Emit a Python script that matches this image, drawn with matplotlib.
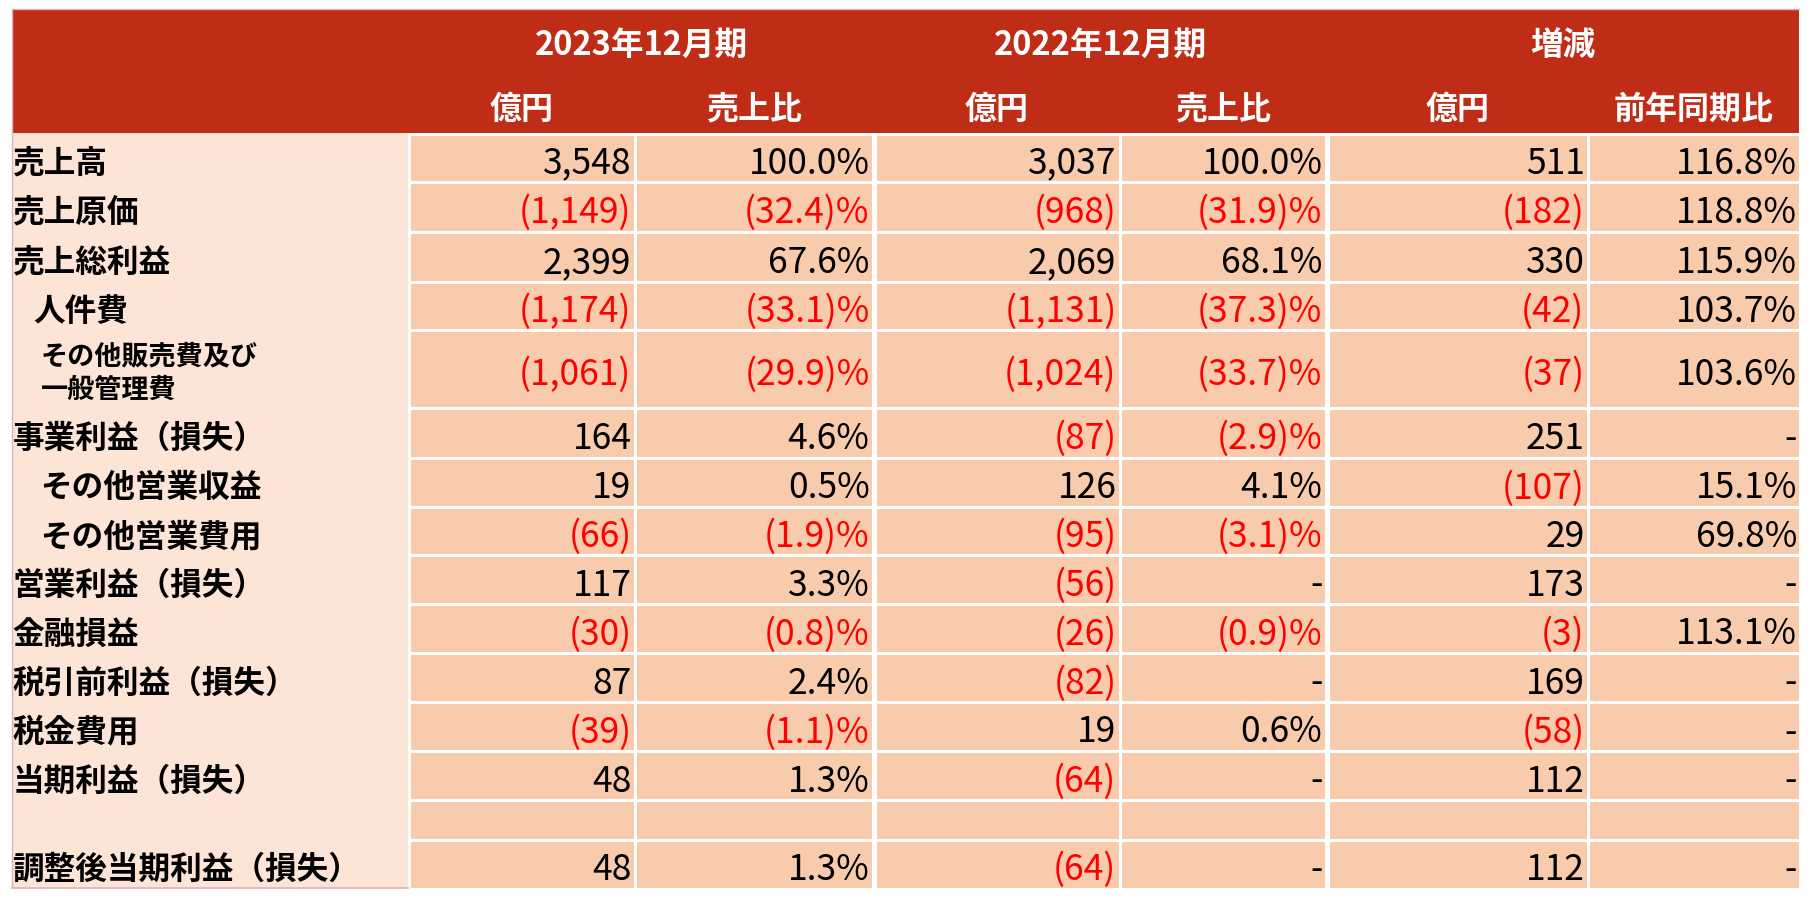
import matplotlib
matplotlib.use("Agg")
import matplotlib.pyplot as plt
from matplotlib.patches import Rectangle

plt.rcParams['font.family'] = ['Noto Sans CJK JP', 'DejaVu Sans']

# ---- data ----
groups = ['2023年12月期', '2022年12月期', '増減']
sub_headers = ['億円', '売上比', '億円', '売上比', '億円', '前年同期比']

labels = ['売上高', '売上原価', '売上総利益', '人件費',
          'その他販売費及び\n一般管理費', '事業利益（損失）', 'その他営業収益',
          'その他営業費用', '営業利益（損失）', '金融損益', '税引前利益（損失）',
          '税金費用', '当期利益（損失）', '', '調整後当期利益（損失）']
indent = [0, 0, 0, 1, 2, 0, 2, 2, 0, 0, 0, 0, 0, 0, 0]

amt_2023 = [3548, -1149, 2399, -1174, -1061, 164, 19, -66, 117, -30, 87, -39, 48, None, 48]
ratio_2023 = [100.0, -32.4, 67.6, -33.1, -29.9, 4.6, 0.5, -1.9, 3.3, -0.8, 2.4, -1.1, 1.3, None, 1.3]
amt_2022 = [3037, -968, 2069, -1131, -1024, -87, 126, -95, -56, -26, -82, 19, -64, None, -64]
ratio_2022 = [100.0, -31.9, 68.1, -37.3, -33.7, -2.9, 4.1, -3.1, None, -0.9, None, 0.6, None, None, None]
amt_diff = [511, -182, 330, -42, -37, 251, -107, 29, 173, -3, 169, -58, 112, None, 112]
ratio_diff = [116.8, 118.8, 115.9, 103.7, 103.6, None, 15.1, 69.8, None, 113.1, None, None, None, None, None]

columns = [(amt_2023, 'amt'), (ratio_2023, 'pct'), (amt_2022, 'amt'),
           (ratio_2022, 'pct'), (amt_diff, 'amt'), (ratio_diff, 'pct')]

# ---- layout (pixels) ----
W, H = 1814, 902
left, top, head_bot = 11.5, 9, 133
col_edges = [408, 635, 874, 1120, 1327, 1588, 1799]
row_edges = [133, 182, 232, 282, 330, 408, 458, 507, 555, 604, 653, 702, 751, 800, 840, 888]
thick = {874, 1327}

HEAD_RED = '#C02D17'
LABEL_BG = '#FCE4D6'
CELL_BG = '#F8CBAD'
NEG_RED = '#FF0000'
BORDER = '#E3B3B3'


def fmt(v, kind):
    if v is None:
        return '-', 'black'
    if kind == 'amt':
        s = f"{abs(v):,}"
        return (f"({s})", NEG_RED) if v < 0 else (s, 'black')
    s = f"{abs(v):.1f}"
    return (f"({s})%", NEG_RED) if v < 0 else (f"{s}%", 'black')


fig = plt.figure(figsize=(W / 100, H / 100), dpi=100)
ax = fig.add_axes([0, 0, 1, 1])
ax.set_xlim(0, W)
ax.set_ylim(H, 0)
ax.axis('off')

# header band
ax.add_patch(Rectangle((left, top), col_edges[-1] - left, head_bot - top, color=HEAD_RED, lw=0))
# label column background
ax.add_patch(Rectangle((left, head_bot), col_edges[0] - left, row_edges[-1] - head_bot,
                       color=LABEL_BG, lw=0))
# thin borders
ax.plot([left, col_edges[-1]], [top, top], color=BORDER, lw=1)
ax.plot([left, left], [top, row_edges[-1]], color=BORDER, lw=1)
ax.plot([left, col_edges[0]], [row_edges[-1], row_edges[-1]], color=BORDER, lw=1.2)

# header text
for g, name in enumerate(groups):
    cx = (col_edges[2 * g] + col_edges[2 * g + 2]) / 2
    ax.text(cx, 45, name, color='white', fontsize=23.5, fontweight='bold',
            ha='center', va='center')
for j, name in enumerate(sub_headers):
    cx = (col_edges[j] + col_edges[j + 1]) / 2
    ax.text(cx, 110, name, color='white', fontsize=23, fontweight='bold',
            ha='center', va='center')

# data cells
n_rows = len(labels)
for i in range(n_rows):
    y0, y1 = row_edges[i], row_edges[i + 1]
    gt = 3 if i == 0 else 1.5
    gb = 0 if i == n_rows - 1 else 1.5
    cy = (y0 + y1) / 2
    for j, (vals, kind) in enumerate(columns):
        x0, x1 = col_edges[j], col_edges[j + 1]
        gl = 3 if j == 0 else (2.5 if x0 in thick else 1.5)
        gr = 0 if j == len(columns) - 1 else (2.5 if x1 in thick else 1.5)
        ax.add_patch(Rectangle((x0 + gl, y0 + gt), x1 - x0 - gl - gr, y1 - y0 - gt - gb,
                               color=CELL_BG, lw=0))
        if labels[i] == '':
            continue
        s, c = fmt(vals[i], kind)
        ax.text(x1 - gr - 2, cy + 6, s, color=c, fontsize=25.5,
                ha='right', va='center')

    lab = labels[i]
    if lab:
        x = left + 1 + [0, 21, 28][indent[i]]
        if '\n' in lab:
            ax.text(x, cy + 4, lab, fontsize=19.5, fontweight='bold',
                    ha='left', va='center', linespacing=1.25)
        else:
            ax.text(x, cy + 6, lab, fontsize=22.8, fontweight='bold',
                    ha='left', va='center')

fig.savefig('out.png', dpi=100)
